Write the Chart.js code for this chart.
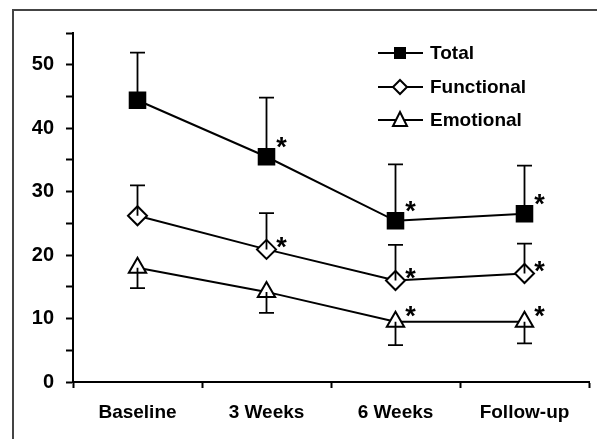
<!DOCTYPE html>
<html>
<head>
<meta charset="utf-8">
<script src="https://cdn.jsdelivr.net/npm/chart.js@4/dist/chart.umd.min.js"></script>
<style>
    body { margin: 0; background: #fff; }
    #wrap { position: relative; width: 597px; height: 439px; overflow: hidden; }
    #frame { position: absolute; left: 12px; top: 9px; width: 700px; height: 600px;
             border-left: 2px solid #444; border-top: 2px solid #444; }
    canvas { position: absolute; left: 0; top: 0; }
</style>
</head>
<body>
<div id="wrap">
    <div id="frame"></div>
    <canvas id="chart" width="597" height="439"></canvas>
</div>
<script>
// Data
var categories = ["Baseline", "3 Weeks", "6 Weeks", "Follow-up"];
var seriesNames = ["Total", "Functional", "Emotional"];

var totalValues = [44.4, 35.5, 25.4, 26.5];
var functionalValues = [26.2, 20.9, 16.0, 17.1];
var emotionalValues = [18.0, 14.2, 9.5, 9.5];

// end of each error bar (Total and Functional go up, Emotional goes down)
var totalErrorEnd = [51.9, 44.8, 34.3, 34.1];
var functionalErrorEnd = [31.0, 26.6, 21.6, 21.8];
var emotionalErrorEnd = [14.8, 10.9, 5.8, 6.1];

// significance marks (asterisk) per point
var totalSignificant = [false, true, true, true];
var functionalSignificant = [false, true, true, true];
var emotionalSignificant = [false, false, true, true];

var yTicks = [0, 10, 20, 30, 40, 50];

var errorEnds = [totalErrorEnd, functionalErrorEnd, emotionalErrorEnd];
var significant = [totalSignificant, functionalSignificant, emotionalSignificant];
var starOffsetY = [-17, -9, -13];

/*
* Draws error bars, asterisks and the legend on top of the chart
*/
var extrasPlugin = {
    id: 'extras',
    afterDatasetsDraw: function(chart) {
        var ctx = chart.ctx;
        var xs = chart.scales.x;
        var ys = chart.scales.y;
        ctx.save();
        ctx.strokeStyle = '#000';
        ctx.lineWidth = 1.8;
        chart.data.datasets.forEach(function(ds, d) {
            ds.data.forEach(function(v, i) {
                var x = xs.getPixelForValue(i);
                var y0 = ys.getPixelForValue(v);
                var y1 = ys.getPixelForValue(errorEnds[d][i]);
                ctx.beginPath();
                ctx.moveTo(x, y0);
                ctx.lineTo(x, y1);
                ctx.moveTo(x - 7.5, y1);
                ctx.lineTo(x + 7.5, y1);
                ctx.stroke();
            });
        });
        // asterisks
        ctx.fillStyle = '#000';
        ctx.font = 'bold 27px "Liberation Sans", Arial, sans-serif';
        ctx.textAlign = 'center';
        ctx.textBaseline = 'alphabetic';
        chart.data.datasets.forEach(function(ds, d) {
            ds.data.forEach(function(v, i) {
                if (!significant[d][i]) return;
                var x = xs.getPixelForValue(i) + 15;
                var y = ys.getPixelForValue(v) + starOffsetY[d];
                ctx.fillText('*', x, y + 16);
            });
        });
        ctx.restore();
    },
    afterDraw: function(chart) {
        var ctx = chart.ctx;
        var legendY = [53, 87, 120];
        ctx.save();
        ctx.strokeStyle = '#000';
        ctx.fillStyle = '#000';
        chart.data.datasets.forEach(function(ds, d) {
            var y = legendY[d];
            ctx.lineWidth = 2;
            ctx.beginPath();
            ctx.moveTo(378, y);
            ctx.lineTo(423, y);
            ctx.stroke();
            ctx.beginPath();
            if (ds.pointStyle == 'rect') {
                ctx.rect(394, y - 6, 12, 12);
                ctx.fillStyle = '#000';
                ctx.fill();
            } else if (ds.pointStyle == 'rectRot') {
                ctx.moveTo(400, y - 7);
                ctx.lineTo(407, y);
                ctx.lineTo(400, y + 7);
                ctx.lineTo(393, y);
                ctx.closePath();
                ctx.fillStyle = '#fff';
                ctx.fill();
                ctx.stroke();
            } else {
                ctx.moveTo(400, y - 8);
                ctx.lineTo(407, y + 6);
                ctx.lineTo(393, y + 6);
                ctx.closePath();
                ctx.fillStyle = '#fff';
                ctx.fill();
                ctx.stroke();
            }
            ctx.fillStyle = '#000';
            ctx.font = 'bold 19px "Liberation Sans", Arial, sans-serif';
            ctx.textAlign = 'left';
            ctx.textBaseline = 'middle';
            ctx.fillText(ds.label, 430, y + 1);
        });
        ctx.restore();
    }
};

var ctx = document.getElementById('chart').getContext('2d');
var myChart = new Chart(ctx, {
    type: 'line',
    data: {
        labels: categories,
        datasets: [{
            label: seriesNames[0],
            data: totalValues,
            pointStyle: 'rect',
            pointRadius: 11,
            pointBackgroundColor: '#000'
        }, {
            label: seriesNames[1],
            data: functionalValues,
            pointStyle: 'rectRot',
            pointRadius: 9.5,
            pointBackgroundColor: '#fff'
        }, {
            label: seriesNames[2],
            data: emotionalValues,
            pointStyle: 'triangle',
            pointRadius: 10,
            pointBackgroundColor: '#fff'
        }]
    },
    options: {
        responsive: false,
        animation: false,
        devicePixelRatio: 1,
        layout: { autoPadding: false, padding: { top: 33, right: 8, left: 0, bottom: 0 } },
        elements: {
            line: { borderColor: '#000', borderWidth: 2, tension: 0 },
            point: { borderColor: '#000', borderWidth: 2, hoverRadius: 10 }
        },
        plugins: {
            legend: { display: false },
            tooltip: { enabled: false }
        },
        scales: {
            x: {
                offset: true,
                border: { color: '#000', width: 2 },
                grid: { offset: true, drawOnChartArea: false, tickLength: 6, tickWidth: 2, tickColor: '#000' },
                ticks: {
                    color: '#000',
                    padding: 13,
                    maxRotation: 0,
                    font: { family: '"Liberation Sans", Arial, sans-serif', size: 19, weight: 'bold' }
                },
                afterFit: function(scale) {
                    scale.height = 57;
                    scale.paddingLeft = 0;
                    scale.paddingRight = 0;
                }
            },
            y: {
                min: 0,
                max: 55,
                border: { color: '#000', width: 2 },
                grid: { drawOnChartArea: false, tickLength: 7, tickWidth: 2, tickColor: '#000' },
                ticks: {
                    stepSize: 5,
                    color: '#000',
                    padding: 12,
                    font: { family: '"Liberation Sans", Arial, sans-serif', size: 20, weight: 'bold' },
                    callback: function(value) {
                        return yTicks.indexOf(value) != -1 ? value : '';
                    }
                },
                afterFit: function(scale) { scale.width = 73; }
            }
        }
    },
    plugins: [extrasPlugin]
});
</script>
</body>
</html>
